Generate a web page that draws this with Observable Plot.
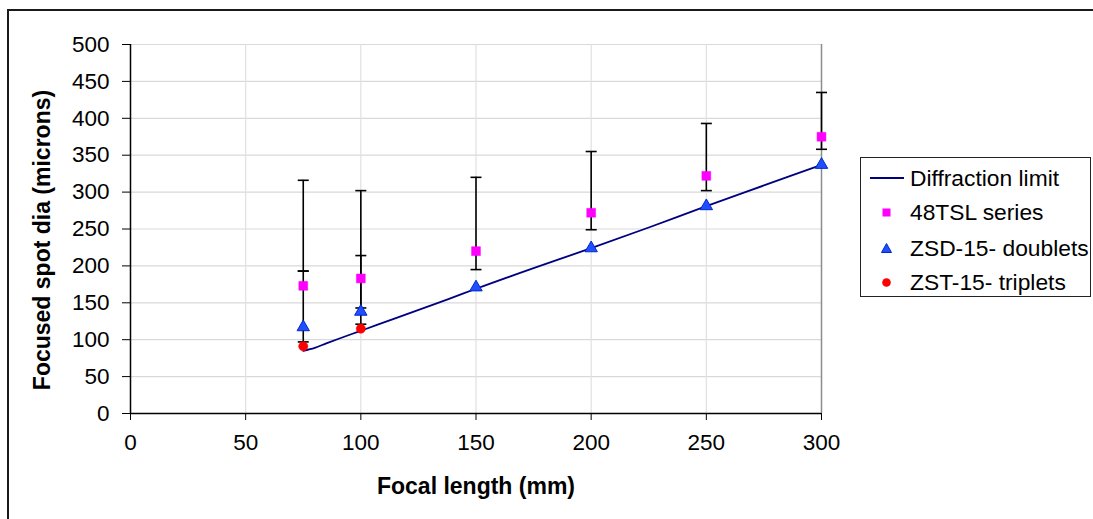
<!DOCTYPE html>
<html>
<head>
<meta charset="utf-8">
<script src="https://cdn.jsdelivr.net/npm/d3@7"></script>
<script src="https://cdn.jsdelivr.net/npm/@observablehq/plot@0.6"></script>
<style>
  html, body { margin: 0; padding: 0; background: #fff; overflow: hidden; }
  #wrap { position: relative; width: 1093px; height: 519px; font-family: "Liberation Sans", Arial, sans-serif; }
  #frame { position: absolute; left: 7px; top: 9px; width: 1200px; height: 600px; border: 2px solid #1a1a1a; box-sizing: border-box; pointer-events: none; }
  #chart { position: absolute; left: 0; top: 0; }
  #legend { position: absolute; left: 860px; top: 157px; width: 231px; height: 140px; border: 1.5px solid #222; box-sizing: border-box; background: #fff; font-size: 22.8px; color: #000; }
  .item { position: absolute; left: 0; height: 30px; display: flex; align-items: center; }
  .item svg { position: absolute; left: 6px; }
  .item span { position: absolute; left: 49px; white-space: nowrap; line-height: 30px; }
</style>
</head>
<body>
<div id="wrap">
  <div id="chart"></div>
  <div id="legend"></div>
  <div id="frame"></div>
</div>
<script>
// ---- data ----
const focal = [75, 100, 150, 200, 250, 300];
const tsl48 = [173, 183, 220, 272, 322, 375];
const tslLow = [193, 143, 195, 249, 302, 358];
const tslHigh = [316, 302, 320, 355, 393, 435];
const zsd15 = [117, 138, 171, 224, 281, 337];
const zsdErrFocal = [75, 100];
const zsdLow = [97, 121];
const zsdHigh = [193, 214];
const zstFocal = [75, 100];
const zst15 = [91, 115];
const diffFocal = [75, 80, 85, 91, 99, 107, 114, 126, 138, 150, 175, 200, 225, 250, 275, 300];
const diffVal = [85, 89, 95, 102, 111, 120, 128, 141.5, 155, 169, 197, 224, 252, 281, 309, 337];
const xTicks = [0, 50, 100, 150, 200, 250, 300];
const yTicks = [0, 50, 100, 150, 200, 250, 300, 350, 400, 450, 500];
const seriesNames = ["Diffraction limit", "48TSL series", "ZSD-15- doublets", "ZST-15- triplets"];

// ---- tables ----
const tslData = focal.map((f, i) => ({f, v: tsl48[i], lo: tslLow[i], hi: tslHigh[i]}));
const zsdData = focal.map((f, i) => ({f, v: zsd15[i]}));
const zsdErr = zsdErrFocal.map((f, i) => ({f, lo: zsdLow[i], hi: zsdHigh[i]}));
const zstData = zstFocal.map((f, i) => ({f, v: zst15[i]}));
const diffData = diffFocal.map((f, i) => ({f, v: diffVal[i]}));
const errAll = [...tslData, ...zsdErr];
const caps = errAll.flatMap(d => [{f: d.f, v: d.lo}, {f: d.f, v: d.hi}]);

const capSymbol = {
  draw(ctx, size) {
    const w = Math.sqrt(size / Math.PI);
    ctx.moveTo(-w, 0);
    ctx.lineTo(w, 0);
  }
};

const COL_LINE = "#000080", COL_SQ = "#ff00ff", COL_TRI = "#1f4fff", COL_TRI_S = "#0028c8", COL_CIR = "#ff0000";

const chart = Plot.plot({
  width: 1093,
  height: 519,
  marginLeft: 130,
  marginRight: 272,
  marginTop: 44,
  marginBottom: 106,
  style: {fontFamily: "'Liberation Sans', Arial, sans-serif", fontSize: "22px", color: "#000", background: "transparent"},
  x: {domain: [0, 300]},
  y: {domain: [0, 500]},
  marks: [
    Plot.ruleY(yTicks.filter(t => t > 0), {stroke: "#d9d9d9", strokeWidth: 1.2}),
    Plot.ruleX(xTicks.filter(t => t > 0 && t < 300), {stroke: "#e0e0e0", strokeWidth: 1.2}),
    Plot.ruleX([300], {stroke: "#8c8c8c", strokeWidth: 1.5}),
    Plot.axisY({ticks: yTicks, tickSize: 8, tickPadding: 13, fontSize: 22.5, label: null}),
    Plot.axisX({ticks: xTicks, tickSize: 7, tickPadding: 14, fontSize: 22.5, label: null}),
    Plot.ruleX([0], {stroke: "#000", strokeWidth: 1.5}),
    Plot.ruleY([0], {stroke: "#000", strokeWidth: 1.5}),
    Plot.line(diffData, {x: "f", y: "v", stroke: COL_LINE, strokeWidth: 1.8, curve: "monotone-x"}),
    Plot.ruleX(errAll, {x: "f", y1: "lo", y2: "hi", stroke: "#000", strokeWidth: 1.6}),
    Plot.dot(caps, {x: "f", y: "v", symbol: capSymbol, r: 5.5, stroke: "#000", strokeWidth: 1.6, fill: "none"}),
    Plot.dot(tslData, {x: "f", y: "v", symbol: "square", r: 5, fill: COL_SQ, stroke: COL_SQ, strokeWidth: 0.5}),
    Plot.dot(zsdData, {x: "f", y: "v", symbol: "triangle", r: 4.6, fill: COL_TRI, stroke: COL_TRI_S, strokeWidth: 1}),
    Plot.dot(zstData, {x: "f", y: "v", symbol: "circle", r: 4.6, fill: COL_CIR, stroke: COL_CIR, strokeWidth: 0.5}),
    Plot.text(["Focal length (mm)"], {frameAnchor: "bottom", dy: 80, textAnchor: "middle", fontWeight: "bold", fontSize: 23, fill: "#000"}),
    Plot.text(["Focused spot dia (microns)"], {frameAnchor: "left", dx: -88, dy: 11, textAnchor: "middle", rotate: -90, fontWeight: "bold", fontSize: 23, fill: "#000"})
  ]
});
document.getElementById("chart").appendChild(chart);

// ---- legend ----
const legend = document.getElementById("legend");
const icons = [
  `<svg width="40" height="30"><line x1="3" y1="15" x2="37" y2="15" stroke="${COL_LINE}" stroke-width="1.8"/></svg>`,
  `<svg width="40" height="30"><rect x="15.5" y="11.5" width="8" height="8" fill="${COL_SQ}"/></svg>`,
  `<svg width="40" height="30"><path d="M19.5,10.5 L24.5,19.5 L14.5,19.5 Z" fill="${COL_TRI}" stroke="${COL_TRI_S}" stroke-width="1"/></svg>`,
  `<svg width="40" height="30"><circle cx="19.5" cy="15.5" r="4.3" fill="${COL_CIR}"/></svg>`
];
const itemTops = [5, 39, 75, 109];
seriesNames.forEach((name, i) => {
  const div = document.createElement("div");
  div.className = "item";
  div.style.top = itemTops[i] + "px";
  div.innerHTML = icons[i] + `<span>${name}</span>`;
  legend.appendChild(div);
});
</script>
</body>
</html>
